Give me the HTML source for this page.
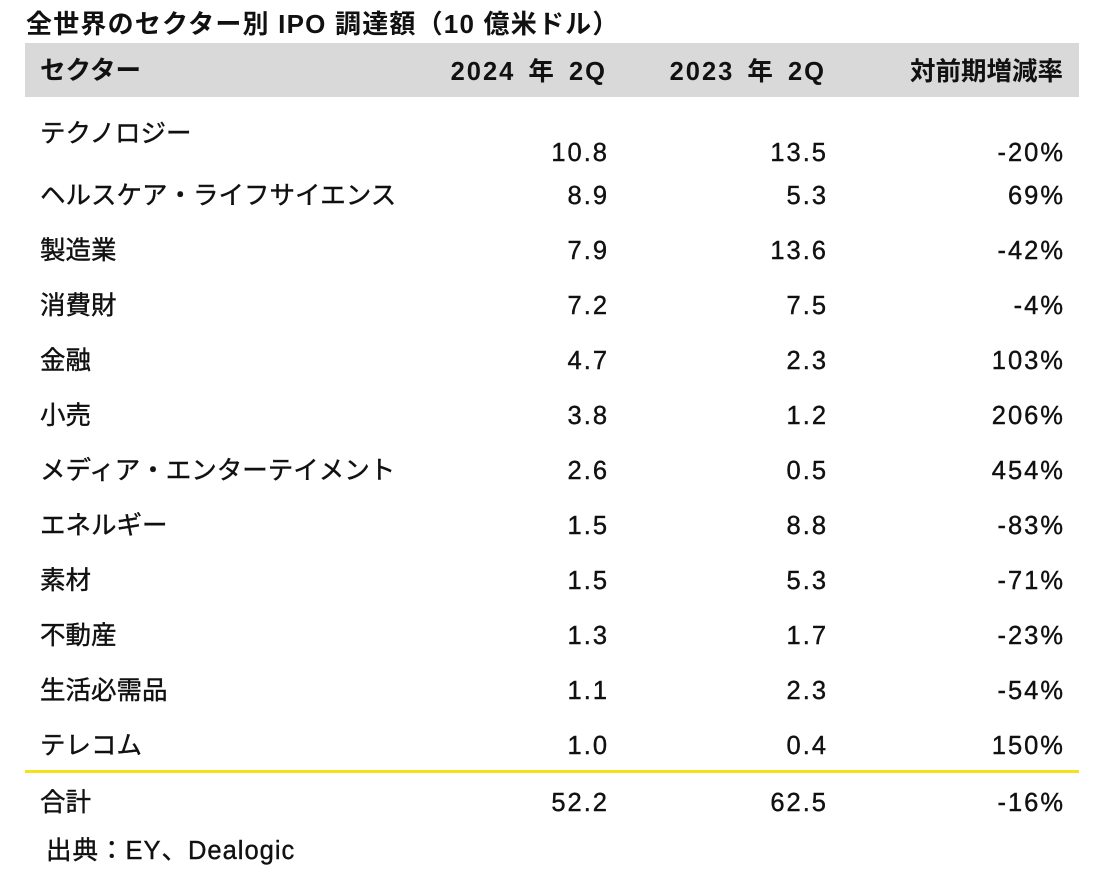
<!DOCTYPE html>
<html><head><meta charset="utf-8"><style>
body{margin:0;width:1101px;height:876px;background:#fff;position:relative;overflow:hidden;font-family:"Liberation Sans","Noto Sans CJK JP",sans-serif;color:#111;}
.t{position:absolute;font-size:25.5px;line-height:30px;white-space:nowrap;-webkit-text-stroke:0.4px #111;}
.n{letter-spacing:2px;}
.r{text-align:right;}
.b{font-weight:bold;-webkit-text-stroke:0;}
</style></head><body>
<div class="t b" style="left:26px;top:9px;font-size:26px;letter-spacing:1.2px;">全世界のセクター別 IPO 調達額（10 億米ドル）</div>
<div style="position:absolute;left:25px;top:43px;width:1054px;height:54px;background:#d9d9d9;"></div>
<div class="t b" style="left:40px;top:56px;">セクター</div>
<div class="t b r" style="right:494px;top:57px;letter-spacing:2px;word-spacing:4px;">2024 年 2Q</div>
<div class="t b r" style="right:275px;top:57px;letter-spacing:2px;word-spacing:4px;">2023 年 2Q</div>
<div class="t b r" style="right:38px;top:57px;">対前期増減率</div>
<div id="rows"></div>
<div style="position:absolute;left:25px;top:770px;width:1054px;height:3px;background:#f5e11a;"></div>
<div class="t" style="left:46px;top:836px;letter-spacing:1px;">出典：EY、Dealogic</div>
<script>
var d=[["テクノロジー","10.8","13.5","-20%"],["ヘルスケア・ライフサイエンス","8.9","5.3","69%"],["製造業","7.9","13.6","-42%"],["消費財","7.2","7.5","-4%"],["金融","4.7","2.3","103%"],["小売","3.8","1.2","206%"],["メディア・エンターテイメント","2.6","0.5","454%"],["エネルギー","1.5","8.8","-83%"],["素材","1.5","5.3","-71%"],["不動産","1.3","1.7","-23%"],["生活必需品","1.1","2.3","-54%"],["テレコム","1.0","0.4","150%"],["合計","52.2","62.5","-16%"]];
var h="";
d.forEach(function(r,i){
 var y=i==0?138:(181+(i-1)*55); if(i==12)y=788;
 var ly=i==0?119:y;
 h+='<div class="t" style="left:40px;top:'+ly+'px">'+r[0]+'</div>';
 h+='<div class="t r n" style="right:492px;top:'+y+'px">'+r[1]+'</div>';
 h+='<div class="t r n" style="right:273px;top:'+y+'px">'+r[2]+'</div>';
 h+='<div class="t r n" style="right:36px;top:'+y+'px">'+r[3]+'</div>';
});
document.getElementById("rows").innerHTML=h;
</script>
</body></html>
